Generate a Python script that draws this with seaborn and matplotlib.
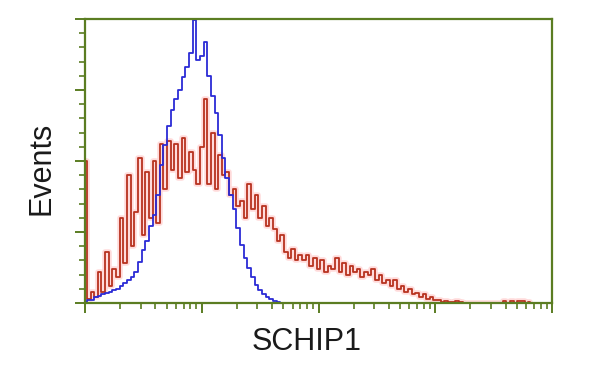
import numpy as np
import pandas as pd
import matplotlib
matplotlib.use("Agg")
import matplotlib.pyplot as plt
import seaborn as sns
from matplotlib.ticker import LogLocator, MultipleLocator, NullFormatter

# ---- data (percent of max events per log channel; 128 channels over 4 decades) ----
n_channels = 128
decades = 4
blue_counts = [0.5, 1, 1, 2, 2.5, 3, 3.5, 4, 4.5, 5,
               6, 7, 8, 9, 11, 14.5, 18.5, 22, 27, 31,
               38, 48.5, 55.5, 62.5, 68, 72, 75, 79.5, 83, 88,
               99.5, 85.5, 87, 92, 80, 73, 67, 59, 51, 44,
               38, 33, 26.5, 20.5, 16, 12.5, 9, 6.5, 4.5, 3,
               2, 1.5, 0.7, 0.4, 0.1, 0]
red_counts = [50, 1.5, 4, 2, 11, 4, 18, 6, 12, 9,
              30, 14, 45, 20, 32, 51, 24, 46, 30, 50,
              28, 56, 40, 57, 47, 56, 44, 58, 46, 53,
              47, 42, 55, 72, 42, 60, 40, 52, 45, 46,
              38, 40, 34, 36, 30, 42, 33, 38, 30, 34,
              27, 30, 26, 22, 24, 18, 16, 19, 15, 17,
              15, 17, 13, 16, 12, 15, 11, 13, 12, 16,
              11, 14, 10, 13, 11, 12, 9, 11, 10, 12,
              8, 10, 7, 8, 6, 8, 5, 6, 4, 5,
              3, 3.5, 2, 3, 1.5, 2, 1, 1, 0.5, 0.8,
              0.5, 0.3, 0.8, 0.2, 0, 0, 0, 0, 0, 0,
              0, 0, 0, 0, 0, 0.6, 0, 0.7, 0, 0.6,
              0.8, 0, 0.5]
x_label = "SCHIP1"
y_label = "Events"

chan = np.arange(n_channels)
fluor = 10 ** (chan * decades / n_channels)

blue_df = pd.DataFrame({"fluor": fluor[:len(blue_counts)], "events": blue_counts})
red_df = pd.DataFrame({"fluor": fluor[:len(red_counts)], "events": red_counts})

sns.set_style("white")
plt.rcParams["font.family"] = ["Liberation Sans", "DejaVu Sans"]

fig = plt.figure(figsize=(6, 3.75), dpi=100)
ax = fig.add_axes([85 / 600, 72 / 375, (552 - 85) / 600, (303 - 19) / 375])

frame = "#5b7d22"
# pinkish halo around the red trace
sns.lineplot(data=red_df, x="fluor", y="events", ax=ax, color="#ff9a9a", alpha=0.35,
             linewidth=4, drawstyle="steps-mid", estimator=None, legend=False)
sns.lineplot(data=red_df, x="fluor", y="events", ax=ax, color="#b8321f",
             linewidth=1.3, drawstyle="steps-mid", estimator=None, legend=False)
sns.lineplot(data=blue_df, x="fluor", y="events", ax=ax, color="#2b2bd6",
             linewidth=1.3, drawstyle="steps-mid", estimator=None, legend=False)

ax.set_xscale("log")
ax.set_xlim(1, 10 ** decades)
ax.set_ylim(0, 100)
ax.xaxis.set_major_locator(LogLocator(base=10, numticks=10))
ax.xaxis.set_minor_locator(LogLocator(base=10, subs=np.arange(2, 10), numticks=100))
ax.xaxis.set_major_formatter(NullFormatter())
ax.xaxis.set_minor_formatter(NullFormatter())
ax.yaxis.set_major_locator(MultipleLocator(25))
ax.yaxis.set_minor_locator(MultipleLocator(5))
ax.yaxis.set_major_formatter(NullFormatter())

for s in ax.spines.values():
    s.set_color(frame)
    s.set_linewidth(1.6)
    s.set_visible(True)
ax.tick_params(axis="both", which="major", direction="out", length=7, width=1.4,
               color=frame, bottom=True, left=True, top=False, right=False)
ax.tick_params(axis="both", which="minor", direction="out", length=4, width=1.2,
               color=frame, bottom=True, left=True, top=False, right=False)
ax.set_xlabel("")
ax.set_ylabel("")

fig.text(307 / 600, 1 - 342 / 375, x_label, ha="center", va="center", fontsize=22, color="#1a1a1a")
fig.text(41 / 600, 1 - 168 / 375, y_label, ha="center", va="center", fontsize=22,
         rotation=90, color="#1a1a1a")

fig.savefig("out.png", dpi=100)
